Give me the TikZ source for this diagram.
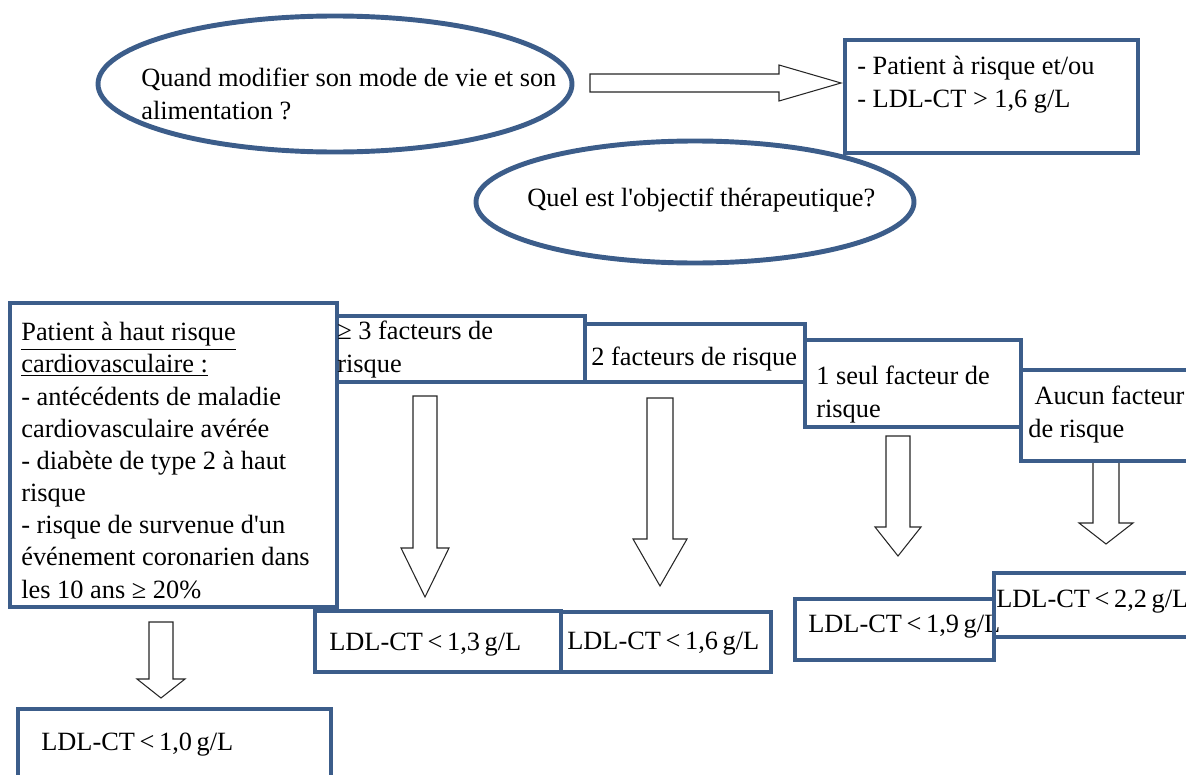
\documentclass[tikz,border=0pt]{standalone}
\usepackage{fontspec}
\setmainfont{Liberation Serif}
\newfontfamily\ldlfont{Liberation Serif}[WordSpace=0.7]
\usetikzlibrary{shapes.geometric,fit}
\definecolor{bordbleu}{RGB}{60,93,138}

\begin{document}
\begin{tikzpicture}[x=0.02cm,y=-0.02cm,
  bulle/.style={draw=bordbleu,line width=2.8pt,ellipse,inner sep=0pt},
  boite/.style={draw=bordbleu,line width=2.8pt,rectangle,inner sep=0pt},
  texte/.style={anchor=base west,inner sep=0pt,align=left,font=\fontsize{15}{18.3}\selectfont},
  ldl/.style={texte,font=\ldlfont\fontsize{15}{18.3}\selectfont},
  fleche/.style={draw=black!85,line width=0.6pt,fill=white,line join=miter}]
\useasboundingbox (0,0) rectangle (1186,774);
\clip (0,0) rectangle (1186,774);
%questions (base = ligne du bas)
\node[bulle,minimum width=474*0.02cm,minimum height=136*0.02cm] (quand) at (335,84) {};
\node[texte] (tquand) at (141,119) {Quand modifier son mode de vie et son\\alimentation ?};
\node[boite,fit={(845,40) (1138,153)}] (risque) {};
\node[texte] (trisque) at (857,107) {- Patient à risque et/ou\\- LDL-CT > 1,6 g/L};
\draw[fleche] (590,74) -- (779,74) -- (779,65) -- (841,83) -- (779,101) -- (779,92) -- (590,92) -- cycle;
\node[bulle,minimum width=438*0.02cm,minimum height=122*0.02cm] (objectif) at (695,202) {};
\node[texte] (tobjectif) at (527,206) {Quel est l\textquotesingle objectif thérapeutique?};
%fleches vers le bas
\foreach \x/\ya/\yb/\yc/\s/\h in {161/622/679/698/12/24, 425/396/548/597/12/24,
  660/398/539/586/13/27, 898/436/527/556/12/23, 1106/461/523/544/13/27} {
\draw[fleche] (\x-\s,\ya) -- (\x+\s,\ya) -- (\x+\s,\yb) -- (\x+\h,\yb) -- (\x,\yc)
  -- (\x-\h,\yb) -- (\x-\s,\yb) -- cycle;
}
%categories de risque
\node[boite,fit={(10,303) (337,607)}] (haut) {};
\node[texte] (thaut) at (21,598) {\underline{Patient à haut risque}\\\underline{cardiovasculaire :}\\- antécédents de maladie\\cardiovasculaire avérée\\- diabète de type 2 à haut\\risque\\- risque de survenue d\textquotesingle un\\événement coronarien dans\\les 10 ans ≥ 20\%};
\node[boite,fit={(337,316) (585,382)}] (trois) {};
\node[texte] (ttrois) at (337,372) {≥ 3 facteurs de\\risque};
\node[boite,fit={(585,324) (805,382)}] (deux) {};
\node[texte] (tdeux) at (591,365) {2 facteurs de risque};
\node[boite,fit={(805,340) (1021,427)}] (un) {};
\node[texte] (tun) at (816,417) {1 seul facteur de\\risque};
\node[boite,fit={(1021,370) (1195,461)}] (aucun) {};
\node[texte] (taucun) at (1028,437) {\hspace*{3.5pt}Aucun facteur\\de risque};
%objectifs LDL
\node[boite,fit={(18,709) (331,790)}] (ldlA) {};
\node[ldl] (tldlA) at (41,750) {LDL-CT < 1,0 g/L};
\node[boite,fit={(315,611) (561,672)}] (ldlB) {};
\node[ldl] (tldlB) at (329,650) {LDL-CT < 1,3 g/L};
\node[boite,fit={(561,612) (771,672)}] (ldlC) {};
\node[ldl] (tldlC) at (567,649) {LDL-CT < 1,6 g/L};
\node[boite,fit={(795,599) (994,660)}] (ldlD) {};
\node[ldl] (tldlD) at (808,632) {LDL-CT < 1,9 g/L};
\node[boite,fit={(994,573) (1190,637)}] (ldlE) {};
\node[ldl] (tldlE) at (996,607) {LDL-CT < 2,2 g/L};
\end{tikzpicture}
\end{document}
